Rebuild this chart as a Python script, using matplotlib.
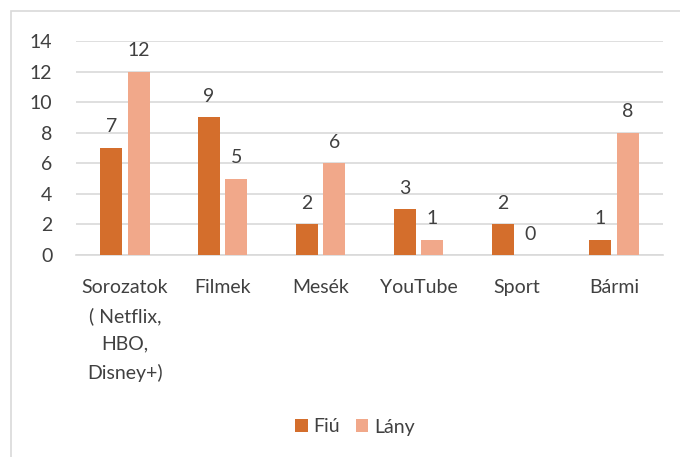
import matplotlib.pyplot as plt
import matplotlib.patches as mpatches
import numpy as np

categories = ["Sorozatok\n( Netflix,\nHBO,\nDisney+)", "Filmek", "Mesék", "YouTube", "Sport", "Bármi"]
fiu = [7, 9, 2, 3, 2, 1]
lany = [12, 5, 6, 1, 0, 8]
yticks = [0, 2, 4, 6, 8, 10, 12, 14]

text_color = "#404040"
plt.rcParams['font.family'] = ['Lato', 'DejaVu Sans']
fs = 14

fig = plt.figure(figsize=(6.8, 4.57), dpi=100)
# outer chart border (runs off right and bottom edges)
fig.patches.append(mpatches.Rectangle((11 / 680, -0.1), 1.2, 1 - 11 / 457 + 0.1,
                                      transform=fig.transFigure, fill=False,
                                      edgecolor="#D9D9D9", linewidth=1.2))

ax = fig.add_axes([76 / 680, 1 - 255 / 457, (663 - 76) / 680, (255 - 41) / 457])
x = np.arange(len(categories))
w = 0.225
b1 = ax.bar(x - 0.14, fiu, w, color="#D46E2C", label="Fiú", zorder=3)
b2 = ax.bar(x + 0.14, lany, w, color="#F1A88A", label="Lány", zorder=3)

for bars in (b1, b2):
    for r in bars:
        ax.annotate(f"{int(r.get_height())}", (r.get_x() + r.get_width() / 2, r.get_height()),
                    xytext=(0, 9), textcoords="offset points", ha="center", va="bottom",
                    fontsize=fs, color=text_color)

ax.set_xlim(-0.5, len(categories) - 0.5)
ax.set_ylim(0, 14)
ax.set_yticks(yticks)
ax.yaxis.grid(True, color="#D9D9D9", linewidth=1.2, zorder=0)
ax.set_axisbelow(True)
for s in ["top", "right", "left"]:
    ax.spines[s].set_visible(False)
ax.spines["bottom"].set_color("#D9D9D9")
ax.spines["bottom"].set_linewidth(1.2)
ax.tick_params(axis="both", length=0, labelsize=fs, labelcolor=text_color)
ax.tick_params(axis="y", pad=17)
ax.tick_params(axis="x", pad=17)
ax.set_xticks(x)
ax.set_xticklabels(categories, linespacing=1.75, va="top")

fig.legend(handles=[b1, b2], loc="center", bbox_to_anchor=(355 / 680, 1 - 427 / 457), ncol=2,
           frameon=False, fontsize=fs, handlelength=0.65, handleheight=0.65, handletextpad=0.3,
           columnspacing=0.8, labelcolor=text_color)

fig.savefig("out.png", dpi=100)
